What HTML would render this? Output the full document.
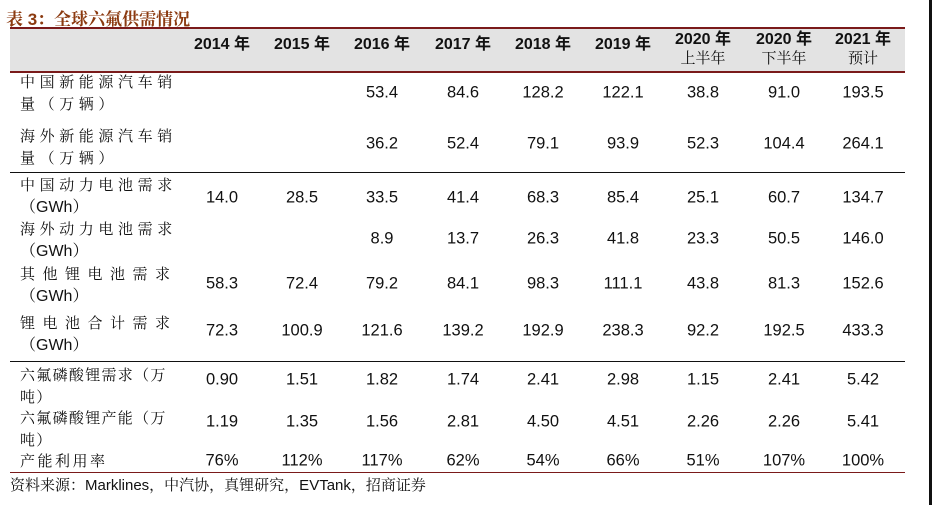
<!DOCTYPE html>
<html><head><meta charset="utf-8">
<style>
body{margin:0;width:934px;height:505px;background:#fff;position:relative;overflow:hidden;font-family:"Liberation Sans","Noto Sans CJK SC",sans-serif;color:#111}
.a{position:absolute;white-space:nowrap}
.v{position:absolute;font-size:16.5px;transform:translate(-50%,-50%);white-space:nowrap}
.lab{position:absolute;left:20px;font-family:"Noto Serif CJK SC","Liberation Sans",serif;font-size:15px;line-height:22px;white-space:nowrap}
.lab span{font-family:"Liberation Sans","Noto Serif CJK SC",sans-serif;letter-spacing:0;font-size:16px}
.hd{position:absolute;font-size:16px;font-weight:bold;transform:translateX(-50%);text-align:center;line-height:19px}
.hd small{display:block;font-size:15px;font-weight:normal;font-family:"Noto Serif CJK SC",serif;line-height:18px}
</style></head><body>
<div class="a" style="left:6px;top:5px;font-size:17px;font-weight:bold;color:#8b3a10;font-family:'Liberation Sans','Noto Serif CJK SC',serif">表 3：全球六氟供需情况</div>
<div class="a" style="left:10px;top:27px;width:895px;height:42px;background:#e3e3e3;border-top:2px solid #7a1a1a;border-bottom:2px solid #7a1a1a"></div>
<div class="a" style="left:10px;top:172px;width:895px;height:0;border-top:1.5px solid #111"></div>
<div class="a" style="left:10px;top:361px;width:895px;height:0;border-top:1.5px solid #111"></div>
<div class="a" style="left:10px;top:472px;width:895px;height:0;border-top:1.5px solid #7a1a1a"></div>
<div class="a" style="left:929px;top:0;width:3px;height:505px;background:#111"></div>
<div class="a" style="left:10px;top:474px;font-size:15px;font-family:'Liberation Sans','Noto Serif CJK SC',serif">资料来源：Marklines，中汽协，真锂研究，EVTank，招商证券</div>
<div id="t"></div>
<script>
const headers=["2014 年","2015 年","2016 年","2017 年","2018 年","2019 年","2020 年","2020 年","2021 年"];
const subHeaders=["","","","","","","上半年","下半年","预计"];
const rowLabels=["中国新能源汽车销<br>量（万辆）","海外新能源汽车销<br>量（万辆）","中国动力电池需求<br><span>（GWh）</span>","海外动力电池需求<br><span>（GWh）</span>","其他锂电池需求<br><span>（GWh）</span>","锂电池合计需求<br><span>（GWh）</span>","六氟磷酸锂需求（万<br>吨）","六氟磷酸锂产能（万<br>吨）","产能利用率"];
const r1=["","","53.4","84.6","128.2","122.1","38.8","91.0","193.5"];
const r2=["","","36.2","52.4","79.1","93.9","52.3","104.4","264.1"];
const r3=["14.0","28.5","33.5","41.4","68.3","85.4","25.1","60.7","134.7"];
const r4=["","","8.9","13.7","26.3","41.8","23.3","50.5","146.0"];
const r5=["58.3","72.4","79.2","84.1","98.3","111.1","43.8","81.3","152.6"];
const r6=["72.3","100.9","121.6","139.2","192.9","238.3","92.2","192.5","433.3"];
const r7=["0.90","1.51","1.82","1.74","2.41","2.98","1.15","2.41","5.42"];
const r8=["1.19","1.35","1.56","2.81","4.50","4.51","2.26","2.26","5.41"];
const r9=["76%","112%","117%","62%","54%","66%","51%","107%","100%"];
const rows=[r1,r2,r3,r4,r5,r6,r7,r8,r9];
const colX=[222,302,382,463,543,623,703,784,863];
const labelTop=[71,125,174,218,263,312,364,407,450];
const labelSpacing=[4.6,4.6,4.6,4.6,7.5,7.5,1.3,1.3,2.5];
const valueY=[93,144,198,239,284,331,380,422,461];
const t=document.getElementById('t');
headers.forEach((h,i)=>{
  const d=document.createElement('div');d.className='hd';
  
  
  d.style.left=colX[i]+'px';d.style.top=(subHeaders[i]?30:35)+'px';
  d.innerHTML=h+(subHeaders[i]?'<small>'+subHeaders[i]+'</small>':'');t.appendChild(d);
});
rows.forEach((r,ri)=>{
  const l=document.createElement('div');l.className='lab';
  
  
  l.style.top=labelTop[ri]+'px';l.style.letterSpacing=labelSpacing[ri]+'px';l.innerHTML=rowLabels[ri];t.appendChild(l);
  r.forEach((v,ci)=>{if(!v)return;
    const c=document.createElement('div');c.className='v';
    
    
    c.style.left=colX[ci]+'px';c.style.top=valueY[ri]+'px';c.textContent=v;t.appendChild(c);});
});
</script>
</body></html>
